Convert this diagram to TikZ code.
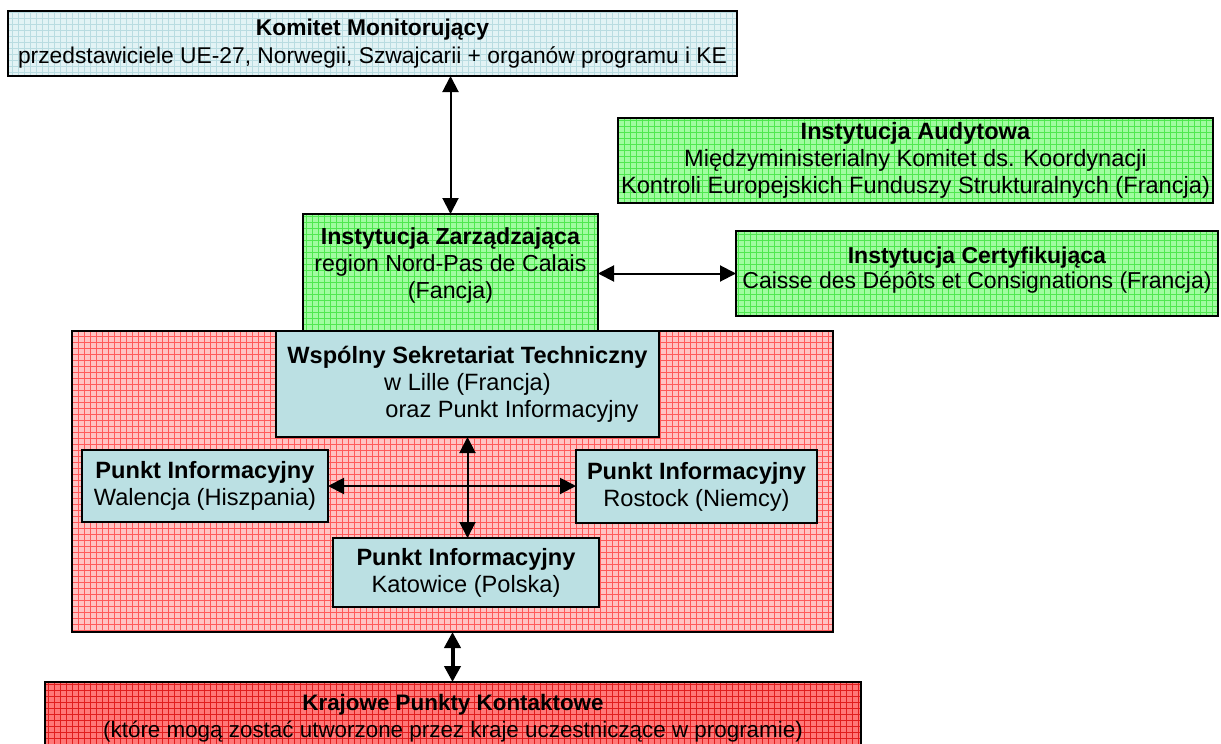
\documentclass[tikz,border=0pt]{standalone}
\usepackage{fontspec}
\setmainfont{Liberation Sans}
\usetikzlibrary{arrows.meta,patterns}
\definecolor{komfill}{RGB}{226,243,245}
\definecolor{komline}{RGB}{185,220,225}
\definecolor{greenfill}{RGB}{160,252,160}
\definecolor{greenline}{RGB}{80,232,80}
\definecolor{pinkfill}{RGB}{255,195,195}
\definecolor{pinkline}{RGB}{255,90,90}
\definecolor{redfill}{RGB}{255,120,120}
\definecolor{redline}{RGB}{225,30,30}
\definecolor{bluefill}{RGB}{187,224,227}

\begin{document}
\begin{tikzpicture}[x=0.5pt,y=-0.5pt,
	box/.style={draw,line width=1pt,inner sep=0pt,outer sep=0pt,align=center,font=\fontsize{11.8}{13.6}\selectfont},
	kombox/.style={box,preaction={fill=komfill},pattern=grid,pattern color=komline},
	greenbox/.style={box,preaction={fill=greenfill},pattern=grid,pattern color=greenline},
	pinkbox/.style={box,preaction={fill=pinkfill},pattern=grid,pattern color=pinkline},
	redbox/.style={box,preaction={fill=redfill},pattern=grid,pattern color=redline},
	bluebox/.style={box,fill=bluefill},
	tip/.tip={Triangle[length=8pt,width=8pt]},
	link/.style={tip-tip,line width=1pt},
	biglink/.style={tip-tip,line width=2pt}]
	\useasboundingbox (0,0) rectangle (1221,744);

%top
	\node[kombox,minimum width=364.5pt,minimum height=32.5pt,font=\fontsize{11.4}{14}\selectfont] (kom) at (372.5,43.5)
		{\textbf{Komitet Monitorujący}\\przedstawiciele UE-27, Norwegii, Szwajcarii + organów programu i KE};
	\node[greenbox,minimum width=297.5pt,minimum height=42.5pt] (aud) at (915.5,160.5)
		{\textbf{Instytucja Audytowa}\\Międzyministerialny Komitet ds. Koordynacji\\Kontroli Europejskich Funduszy Strukturalnych (Francja)};
	\node[greenbox,minimum width=147.5pt,minimum height=58.5pt,font=\fontsize{11.6}{13.6}\selectfont] (zarz) at (450.5,272.5)
		{\textbf{Instytucja Zarządzająca}\\region Nord-Pas de Calais\\(Fancja)\\[-4.3pt]};
	\node[greenbox,minimum width=241pt,minimum height=42.5pt,font=\fontsize{11.5}{12.4}\selectfont] (cert) at (977,273.5)
		{\textbf{Instytucja Certyfikująca}\\Caisse des Dépôts et Consignations (Francja)\\[-6.8pt]};

%secretariat area
	\node[pinkbox,minimum width=380.5pt,minimum height=150.5pt] (area) at (452.5,481.5) {};
	\node[bluebox,minimum width=191.5pt,minimum height=53pt] (wst) at (467.5,384)
		{\textbf{Wspólny Sekretariat Techniczny}\\w Lille (Francja)\hspace*{21.5pt}\\\hspace*{44.5pt}oraz Punkt Informacyjny};
	\node[bluebox,minimum width=123pt,minimum height=36pt] (pl) at (205,486)
		{\textbf{Punkt Informacyjny}\\Walencja (Hiszpania)};
	\node[bluebox,minimum width=120.5pt,minimum height=36.5pt] (pr) at (696.5,486.5)
		{\textbf{Punkt Informacyjny}\\Rostock (Niemcy)};
	\node[bluebox,minimum width=133pt,minimum height=34.5pt] (pk) at (466,572.5)
		{\textbf{Punkt Informacyjny}\\Katowice (Polska)};

%bottom
	\node[redbox,minimum width=408pt,minimum height=36pt,font=\fontsize{11.2}{13.6}\selectfont] (kpk) at (453,718)
		{\textbf{Krajowe Punkty Kontaktowe}\\(które mogą zostać utworzone przez kraje uczestniczące w programie)};

%arrows
	\draw[link] (zarz.north |- kom.south) -- (zarz.north);
	\draw[link] (zarz.east |- cert.west) -- (cert.west);
	\draw[link] (pl.east) -- (pl.east -| pr.west);
	\draw[link] (wst.south) -- (wst.south |- pk.north);
	\draw[biglink] (area.south) -- (area.south |- kpk.north);
\end{tikzpicture}
\end{document}
